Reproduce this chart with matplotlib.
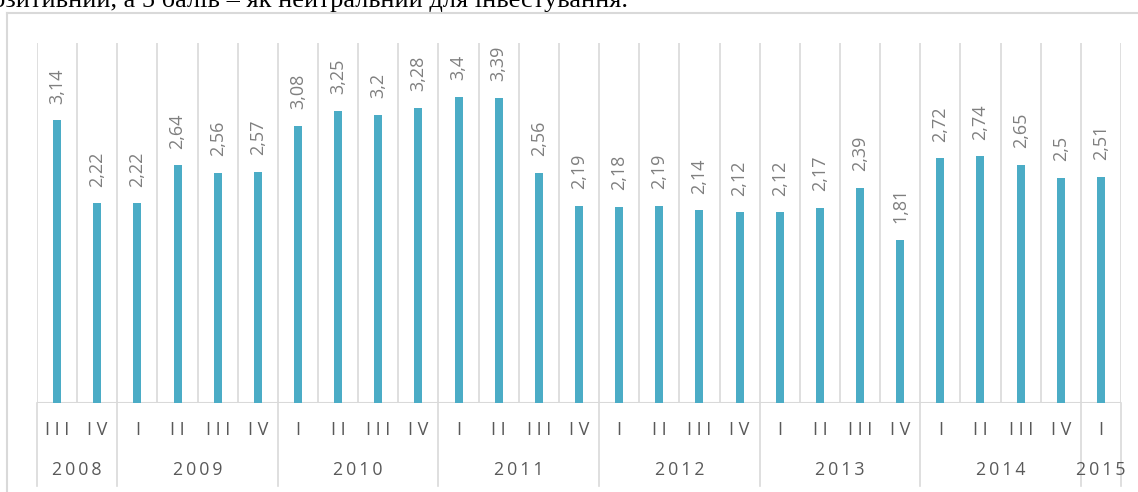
import matplotlib.pyplot as plt
from matplotlib.lines import Line2D
from matplotlib.transforms import blended_transform_factory

values = [3.14, 2.22, 2.22, 2.64, 2.56, 2.57, 3.08, 3.25, 3.2, 3.28, 3.4, 3.39,
          2.56, 2.19, 2.18, 2.19, 2.14, 2.12, 2.12, 2.17, 2.39, 1.81, 2.72, 2.74,
          2.65, 2.5, 2.51]
quarters = ["III", "IV"] + ["I", "II", "III", "IV"] * 6 + ["I"]
years = ["2008", "2009", "2010", "2011", "2012", "2013", "2014", "2015"]
year_counts = [2, 4, 4, 4, 4, 4, 4, 1]

W, H = 1138, 492
bar_color = "#4BACC6"
grid_color = "#D9D9D9"
label_color = "#595959"
value_color = "#7F7F7F"
font = ["Open Sans", "DejaVu Sans"]

plt.rcParams["font.family"] = font

fig = plt.figure(figsize=(W / 100, H / 100), dpi=100)
ax = fig.add_axes([37 / W, 89 / H, (1121 - 37) / W, 360 / H])

x = list(range(len(values)))
ax.bar(x, values, width=0.2, color=bar_color, zorder=3)
ax.set_xlim(-0.5, len(values) - 0.5)
ax.set_ylim(0, 4)

# vertical separators between categories
bounds = [i - 0.5 for i in range(len(values) + 1)]
ax.vlines(bounds, 0, 4, color=grid_color, lw=1.2, zorder=1)
ax.axhline(0, color=grid_color, lw=1.5, zorder=2)

for s in ax.spines.values():
    s.set_visible(False)
ax.set_xticks([])
ax.set_yticks([])

for xi, v in zip(x, values):
    txt = f"{v:g}".replace(".", ",")
    ax.annotate(txt, (xi, v), xytext=(0, 12), textcoords="offset points",
                rotation=90, ha="center", va="bottom", fontsize=13,
                color=value_color)

trans = blended_transform_factory(ax.transData, ax.transAxes)
for xi, q in zip(x, quarters):
    ax.text(xi, -27 / 360, " ".join(q), transform=trans, ha="center",
            va="center", fontsize=13, color=label_color)

start = 0
year_bounds = [-0.5]
for yr, n in zip(years, year_counts):
    centre = start + (n - 1) / 2
    ax.text(centre, -67 / 360, "\u2009".join(yr), transform=trans,
            ha="center", va="center", fontsize=12.8, color=label_color)
    start += n
    year_bounds.append(start - 0.5)
for b in year_bounds:
    ax.plot([b, b], [0, -83 / 360], transform=trans, color=grid_color,
            lw=1.2, clip_on=False)

# chart frame (top and left edges visible)
fig.add_artist(Line2D([7 / W, 1], [1 - 13 / H, 1 - 13 / H], color=grid_color, lw=1.5))
fig.add_artist(Line2D([7 / W, 7 / W], [0, 1 - 13 / H], color=grid_color, lw=1.5))

# cut-off line of document text above the chart
fig.text(628 / W, 1 - 6.5 / H, "позитивний, а 5 балів – як нейтральний для інвестування.",
         ha="right", va="baseline", fontsize=19, color="black",
         family=["Liberation Serif", "DejaVu Serif"])

fig.savefig("out.png", dpi=100)
